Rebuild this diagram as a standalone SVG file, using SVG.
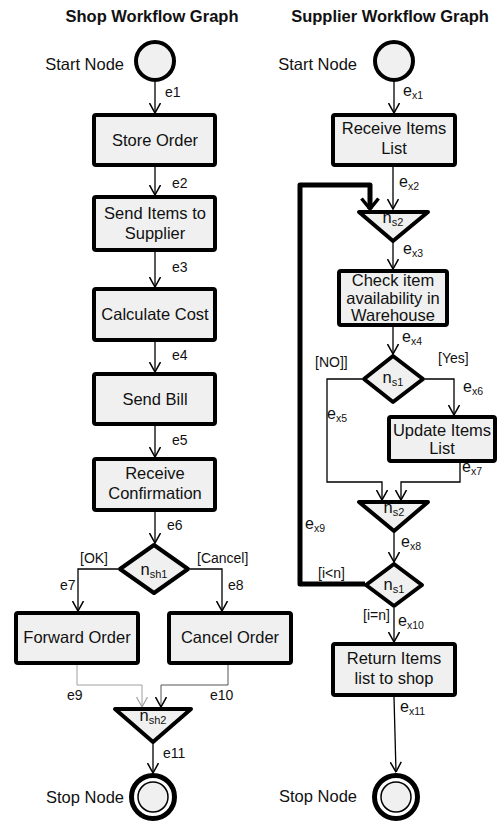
<svg xmlns="http://www.w3.org/2000/svg" width="498" height="821" viewBox="0 0 498 821">
  <style>
    text { font-family: "Liberation Sans", Arial, sans-serif; fill: #111; }
    .title { font-size: 16.5px; font-weight: bold; text-anchor: middle; }
    .node { fill: #f0f0f0; stroke: #000; stroke-width: 4; stroke-linejoin: round; }
    .ring { fill: #fff; stroke: #000; stroke-width: 5; }
    .inner { fill: #f0f0f0; stroke: #000; stroke-width: 1.5; }
    .nt { font-size: 16.5px; text-anchor: middle; }
    .side { font-size: 16.5px; text-anchor: end; }
    .lbl { font-size: 14px; }
    .ex { font-size: 16px; }
    .sub { font-size: 10.5px; }
    .nsub { font-size: 11px; }
    .edge { fill: none; stroke: #000; stroke-width: 1.3; }
    .thin { fill: none; stroke: #555; stroke-width: 1; }
    .grey { fill: none; stroke: #a0a0a0; stroke-width: 1; }
    .loop { fill: none; stroke: #000; stroke-width: 5; stroke-linejoin: round; }
  </style>
  <defs>
    <marker id="arr" viewBox="0 0 11 12" refX="10.5" refY="6" markerWidth="11" markerHeight="12" markerUnits="userSpaceOnUse" orient="auto">
      <path d="M0.5,0.5 L10.5,6 L0.5,11.5" fill="none" stroke="#000" stroke-width="1.5"/>
    </marker>
    <marker id="arrGrey" viewBox="0 0 11 12" refX="10.5" refY="6" markerWidth="11" markerHeight="12" markerUnits="userSpaceOnUse" orient="auto">
      <path d="M0.5,0.5 L10.5,6 L0.5,11.5" fill="none" stroke="#a0a0a0" stroke-width="1.2"/>
    </marker>
    <marker id="arrBold" viewBox="0 0 14 20" refX="12" refY="10" markerWidth="14" markerHeight="20" markerUnits="userSpaceOnUse" orient="auto">
      <path d="M1.5,1.5 L12,10 L1.5,18.5" fill="none" stroke="#000" stroke-width="3.5" stroke-linejoin="round"/>
    </marker>
  </defs>

  <text class="title" x="152" y="22">Shop Workflow Graph</text>
  <text class="title" x="390" y="22">Supplier Workflow Graph</text>

  <!-- connectors -->
  <g id="connectors">
    <!-- shop -->
    <path class="edge" d="M155,82 V113" marker-end="url(#arr)"/>
    <path class="edge" d="M155,167 V195" marker-end="url(#arr)"/>
    <path class="edge" d="M155,252 V287" marker-end="url(#arr)"/>
    <path class="edge" d="M155,342 V372" marker-end="url(#arr)"/>
    <path class="edge" d="M155,426 V457" marker-end="url(#arr)"/>
    <path class="edge" d="M155,512 V543" marker-end="url(#arr)"/>
    <path class="edge" d="M118,569 H78 V611" marker-end="url(#arr)"/>
    <path class="edge" d="M190,569 H222 V611" marker-end="url(#arr)"/>
    <path class="grey" d="M77,665 V685 H142 V707" marker-end="url(#arrGrey)"/>
    <path class="thin" d="M228,665 V685 H161 V707" marker-end="url(#arr)"/>
    <path class="edge" d="M153,744 V773" marker-end="url(#arr)"/>
    <!-- supplier -->
    <path class="edge" d="M394,82 V113" marker-end="url(#arr)"/>
    <path class="edge" d="M393,167 V209" marker-end="url(#arr)"/>
    <path class="loop" d="M365,584 H300 V185 H370 V209" marker-end="url(#arrBold)"/>
    <path class="edge" d="M393,243 V269" marker-end="url(#arr)"/>
    <path class="edge" d="M393,327 V354" marker-end="url(#arr)"/>
    <path class="edge" d="M362,379 H327 V482 H382 V500" marker-end="url(#arr)"/>
    <path class="edge" d="M425,379 H454 V415" marker-end="url(#arr)"/>
    <path class="edge" d="M460,463 V482 H401 V500" marker-end="url(#arr)"/>
    <path class="edge" d="M394,533 V562" marker-end="url(#arr)"/>
    <path class="edge" d="M394,608 V642" marker-end="url(#arr)"/>
    <path class="edge" d="M394,697 L396,772" marker-end="url(#arr)"/>
  </g>

  <!-- edge labels -->
  <g id="edge-labels">
    <text class="lbl" x="165" y="97">e1</text>
    <text class="lbl" x="172" y="188">e2</text>
    <text class="lbl" x="172" y="272">e3</text>
    <text class="lbl" x="172" y="360">e4</text>
    <text class="lbl" x="172" y="445">e5</text>
    <text class="lbl" x="167" y="530">e6</text>
    <text class="lbl" x="80" y="563">[OK]</text>
    <text class="lbl" x="197" y="563">[Cancel]</text>
    <text class="lbl" x="60" y="590">e7</text>
    <text class="lbl" x="228" y="590">e8</text>
    <text class="lbl" x="67" y="700">e9</text>
    <text class="lbl" x="210" y="700">e10</text>
    <text class="lbl" x="163" y="758">e11</text>

    <text class="ex" x="403" y="96">e<tspan class="sub" dy="3">x1</tspan></text>
    <text class="ex" x="399" y="187">e<tspan class="sub" dy="3">x2</tspan></text>
    <text class="ex" x="403" y="254">e<tspan class="sub" dy="3">x3</tspan></text>
    <text class="ex" x="402" y="342">e<tspan class="sub" dy="3">x4</tspan></text>
    <text class="ex" x="327" y="419">e<tspan class="sub" dy="3">x5</tspan></text>
    <text class="ex" x="463" y="392">e<tspan class="sub" dy="3">x6</tspan></text>
    <text class="ex" x="462" y="472">e<tspan class="sub" dy="3">x7</tspan></text>
    <text class="ex" x="401" y="547">e<tspan class="sub" dy="3">x8</tspan></text>
    <text class="ex" x="305" y="529">e<tspan class="sub" dy="3">x9</tspan></text>
    <text class="ex" x="398" y="626">e<tspan class="sub" dy="3">x10</tspan></text>
    <text class="ex" x="400" y="712">e<tspan class="sub" dy="3">x11</tspan></text>
    <text class="lbl" x="315" y="367">[NO]]</text>
    <text class="lbl" x="438" y="363">[Yes]</text>
    <text class="lbl" x="318" y="578">[i&lt;n]</text>
    <text class="lbl" x="363" y="620">[i=n]</text>
  </g>

  <!-- shop workflow nodes -->
  <g id="shop-start">
    <circle class="node" cx="155" cy="61" r="19"/>
    <text class="side" x="124" y="70">Start Node</text>
  </g>
  <g id="store-order">
    <rect class="node" x="94" y="115" width="121" height="50" rx="2"/>
    <text class="nt" x="155" y="146">Store Order</text>
  </g>
  <g id="send-items">
    <rect class="node" x="94" y="197" width="121" height="53" rx="2"/>
    <text class="nt" x="155" y="219">Send Items to</text>
    <text class="nt" x="155" y="239">Supplier</text>
  </g>
  <g id="calculate-cost">
    <rect class="node" x="94" y="289" width="121" height="51" rx="2"/>
    <text class="nt" x="155" y="320">Calculate Cost</text>
  </g>
  <g id="send-bill">
    <rect class="node" x="94" y="374" width="121" height="50" rx="2"/>
    <text class="nt" x="155" y="405">Send Bill</text>
  </g>
  <g id="receive-confirmation">
    <rect class="node" x="94" y="459" width="121" height="51" rx="2"/>
    <text class="nt" x="155" y="479">Receive</text>
    <text class="nt" x="155" y="499">Confirmation</text>
  </g>
  <g id="nsh1">
    <polygon class="node" points="154,545 188,569 154,593 120,569"/>
    <text class="nt" x="154" y="575">n<tspan class="nsub" dy="3">sh1</tspan></text>
  </g>
  <g id="forward-order">
    <rect class="node" x="16" y="613" width="122" height="50" rx="2"/>
    <text class="nt" x="77" y="643">Forward Order</text>
  </g>
  <g id="cancel-order">
    <rect class="node" x="169" y="613" width="122" height="50" rx="2"/>
    <text class="nt" x="230" y="643">Cancel Order</text>
  </g>
  <g id="nsh2">
    <polygon class="node" points="115,709 191,709 153,742"/>
    <text class="nt" x="153" y="721">n<tspan class="nsub" dy="3">sh2</tspan></text>
  </g>
  <g id="shop-stop">
    <circle class="ring" cx="153" cy="797" r="21.5"/>
    <circle class="inner" cx="153" cy="797" r="15"/>
    <text class="side" x="124" y="803">Stop Node</text>
  </g>

  <!-- supplier workflow nodes -->
  <g id="supplier-start">
    <circle class="node" cx="394" cy="61" r="19"/>
    <text class="side" x="357" y="70">Start Node</text>
  </g>
  <g id="receive-items">
    <rect class="node" x="333" y="115" width="122" height="50" rx="2"/>
    <text class="nt" x="394" y="134">Receive Items</text>
    <text class="nt" x="394" y="154">List</text>
  </g>
  <g id="ns2-a">
    <polygon class="node" points="359,212 428,212 393,241"/>
    <text class="nt" x="393" y="223">n<tspan class="nsub" dy="3">s2</tspan></text>
  </g>
  <g id="check-item">
    <rect class="node" x="339" y="271" width="108" height="54" rx="2"/>
    <text class="nt" x="393" y="286">Check item</text>
    <text class="nt" x="393" y="304">availability in</text>
    <text class="nt" x="393" y="321">Warehouse</text>
  </g>
  <g id="ns1-a">
    <polygon class="node" points="393,356 423,379 393,402 364,379"/>
    <text class="nt" x="393" y="383">n<tspan class="nsub" dy="3">s1</tspan></text>
  </g>
  <g id="update-items">
    <rect class="node" x="389" y="417" width="106" height="44" rx="2"/>
    <text class="nt" x="442" y="436">Update Items</text>
    <text class="nt" x="442" y="454">List</text>
  </g>
  <g id="ns2-b">
    <polygon class="node" points="359,502 428,502 394,531"/>
    <text class="nt" x="394" y="513">n<tspan class="nsub" dy="3">s2</tspan></text>
  </g>
  <g id="ns1-b">
    <polygon class="node" points="394,564 422,585 394,606 366,585"/>
    <text class="nt" x="394" y="590">n<tspan class="nsub" dy="3">s1</tspan></text>
  </g>
  <g id="return-items">
    <rect class="node" x="333" y="644" width="122" height="51" rx="2"/>
    <text class="nt" x="394" y="664">Return Items</text>
    <text class="nt" x="394" y="684">list to shop</text>
  </g>
  <g id="supplier-stop">
    <circle class="ring" cx="396" cy="797" r="21.5"/>
    <circle class="inner" cx="396" cy="797" r="15"/>
    <text class="side" x="357" y="802">Stop Node</text>
  </g>
</svg>
